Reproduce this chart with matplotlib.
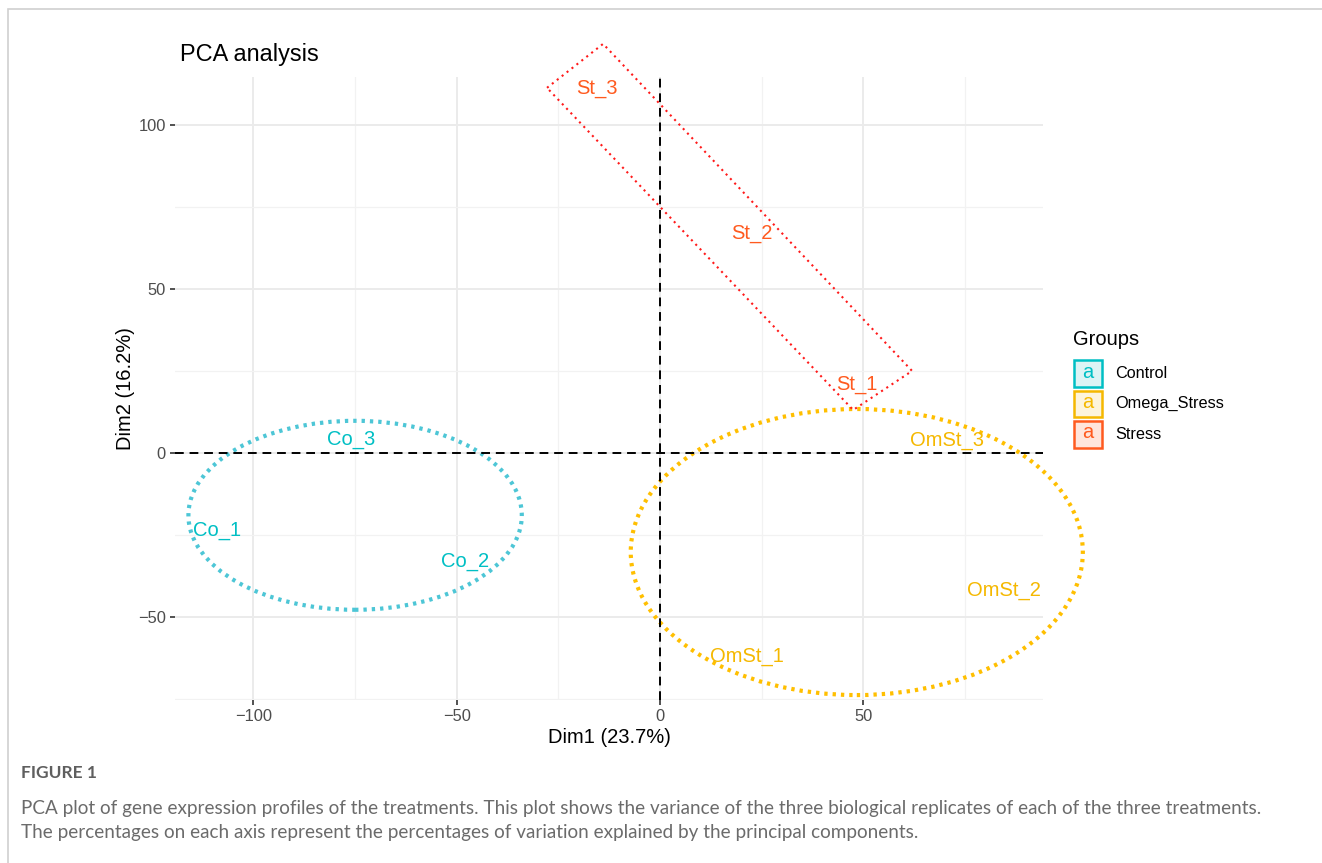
import matplotlib.pyplot as plt
from matplotlib.patches import Ellipse, Polygon, Rectangle

plt.rcParams['font.family'] = ['Liberation Sans', 'DejaVu Sans']

# sample scores on the first two principal components
samples = ['Co_1', 'Co_2', 'Co_3', 'OmSt_1', 'OmSt_2', 'OmSt_3', 'St_1', 'St_2', 'St_3']
groups = ['Control'] * 3 + ['Omega_Stress'] * 3 + ['Stress'] * 3
dim1 = [-109.0, -48.0, -76.0, 21.5, 84.5, 70.5, 48.5, 22.5, -15.5]
dim2 = [-23.5, -33.0, 4.0, -62.0, -42.0, 3.7, 21.0, 67.0, 111.0]

group_names = ['Control', 'Omega_Stress', 'Stress']
text_colors = {'Control': '#00BFC4', 'Omega_Stress': '#F5B800', 'Stress': '#FF5A1F'}
key_fills = {'Control': '#DDF4F5', 'Omega_Stress': '#FDF4DC', 'Stress': '#FFE5DC'}

# concentration ellipses: centre, full width, full height
ctrl_ellipse = ((-75.0, -19.0), 82.0, 57.6)
omega_ellipse = ((48.4, -30.2), 111.2, 87.2)
# outline drawn around the stress replicates
stress_hull_x = [-27.8, -14.0, 62.0, 47.5]
stress_hull_y = [111.3, 124.7, 25.0, 13.1]

fig = plt.figure(figsize=(13.22, 8.63), dpi=100)
W, H = 1322, 863

def fx(px):
    return px / W

def fy(py):
    return 1 - py / H

# card border around the figure
fig.add_artist(Rectangle((fx(8), fy(900)), 1.2, fy(9) - fy(900), transform=fig.transFigure,
                         fill=False, edgecolor='#D0D0D0', linewidth=1.2))

ax = fig.add_axes([fx(175), fy(700), fx(1043) - fx(175), fy(77) - fy(700)])
ax.set_xlim(-119.3, 94.2)
ax.set_ylim(-75.3, 114.6)

ax.set_xticks([-100, -50, 0, 50])
ax.set_yticks([-50, 0, 50, 100])
ax.set_xticks([-75, -25, 25, 75], minor=True)
ax.set_yticks([-75, -25, 25, 75], minor=True)
ax.set_xticklabels(['\u2212100', '\u221250', '0', '50'])
ax.set_yticklabels(['\u221250', '0', '50', '100'])
ax.grid(which='major', color='#EBEBEB', linewidth=1.4)
ax.grid(which='minor', color='#F2F2F2', linewidth=0.9)
ax.set_axisbelow(True)
for s in ax.spines.values():
    s.set_visible(False)
ax.tick_params(which='major', length=3.5, width=1.2, color='#333333',
               labelsize=11.9, labelcolor='#4D4D4D', pad=3)
ax.tick_params(which='minor', length=0)

ax.axhline(0, color='black', linestyle=(0, (4.5, 3)), linewidth=1.4)
ax.axvline(0, color='black', linestyle=(0, (4.5, 3)), linewidth=1.4)

(cx, cy), w, h = ctrl_ellipse
ax.add_patch(Ellipse((cx, cy), w, h, fill=False, edgecolor='#4DC6D6',
                     linestyle=(0, (0.8, 1.2)), linewidth=3.0, clip_on=False))
(cx, cy), w, h = omega_ellipse
ax.add_patch(Ellipse((cx, cy), w, h, fill=False, edgecolor='#FFBF00',
                     linestyle=(0, (0.8, 1.2)), linewidth=3.0, clip_on=False))
ax.add_patch(Polygon(list(zip(stress_hull_x, stress_hull_y)), closed=True, fill=False,
                     edgecolor='#FF1A1A', linestyle=(0, (1, 2)), linewidth=1.5, clip_on=False))

for name, g, x, y in zip(samples, groups, dim1, dim2):
    ax.text(x, y, name, color=text_colors[g], fontsize=14.5, ha='center', va='center')

ax.set_xlabel('Dim1 (23.7%)', fontsize=14.5, labelpad=3)
ax.set_ylabel('Dim2 (16.2%)', fontsize=14.5, labelpad=2)
fig.text(fx(180), fy(55), 'PCA analysis', fontsize=16.9, ha='left', va='center')

# legend
fig.text(fx(1073), fy(339), 'Groups', fontsize=14.5, ha='left', va='center')
for i, g in enumerate(group_names):
    top = 360 + i * 30.5
    fig.add_artist(Rectangle((fx(1074), fy(top + 27)), fx(28), fy(top) - fy(top + 27),
                             transform=fig.transFigure, facecolor=key_fills[g],
                             edgecolor=text_colors[g], linewidth=1.8))
    fig.text(fx(1088), fy(top + 12), 'a', color=text_colors[g], fontsize=14.5,
             ha='center', va='center')
    fig.text(fx(1115), fy(top + 13), g, fontsize=11.7, ha='left', va='center')

# caption
cap_font = ['Lato', 'DejaVu Sans']
fig.text(fx(21), fy(773), 'FIGURE 1', fontsize=12.5, fontweight='bold', color='#5F5F5F',
         family=cap_font, ha='left', va='center')
fig.text(fx(21), fy(808), 'PCA plot of gene expression profiles of the treatments. This plot shows the '
         'variance of the three biological replicates of each of the three treatments.',
         fontsize=13.6, color='#6B6B6B', family=cap_font, ha='left', va='center')
fig.text(fx(21), fy(832), 'The percentages on each axis represent the percentages of variation '
         'explained by the principal components.',
         fontsize=13.6, color='#6B6B6B', family=cap_font, ha='left', va='center')

fig.savefig('out.png', dpi=100)
